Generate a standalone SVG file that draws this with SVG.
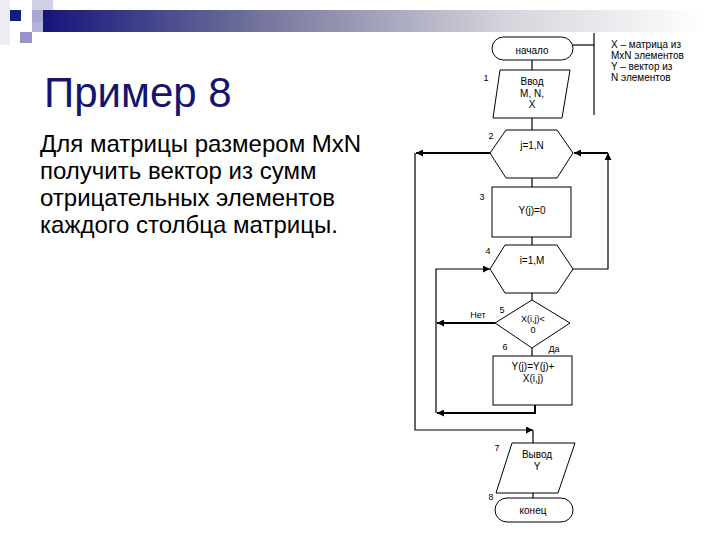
<svg xmlns="http://www.w3.org/2000/svg" width="720" height="540" viewBox="0 0 720 540">
<defs>
<linearGradient id="bar" x1="0" y1="0" x2="1" y2="0">
<stop offset="0" stop-color="#15157a"/>
<stop offset="0.35" stop-color="#7a7aa0"/>
<stop offset="0.7" stop-color="#d4d4dc"/>
<stop offset="1" stop-color="#ffffff"/>
</linearGradient>
<marker id="arr" viewBox="0 0 10 10" refX="10" refY="5" markerWidth="7" markerHeight="7" markerUnits="userSpaceOnUse" orient="auto">
<path d="M0,0 L10,5 L0,10 z" fill="#000"/>
</marker>
<style>
.shape{fill:#fff;stroke:#000;stroke-width:1}
.con{fill:none;stroke:#000;stroke-width:1.2}
.bold{fill:none;stroke:#000;stroke-width:2}
.t{font-family:"Liberation Sans",Arial,sans-serif;font-size:10px;fill:#000;text-anchor:middle}
.lbl{font-family:"Liberation Sans",Arial,sans-serif;font-size:9px;fill:#000;text-anchor:middle}
.note{font-family:"Liberation Sans",Arial,sans-serif;font-size:10px;fill:#000}
.body{font-family:"Liberation Sans",Arial,sans-serif;font-size:24px;fill:#000}
</style>
</defs>
<rect width="720" height="540" fill="#fff"/>
<g id="decoration">
<rect x="0" y="0" width="10" height="45" fill="#ececf2"/>
<rect x="32" y="0" width="21" height="22" fill="#d0d0e6"/>
<rect x="43" y="10" width="660" height="22" fill="url(#bar)"/>
<rect x="32" y="10" width="11" height="12" fill="#a8a8d2"/>
<rect x="32" y="22" width="11" height="10" fill="#b4b4da"/>
<rect x="20" y="32" width="12" height="11" fill="#9494c8"/>
<rect x="10" y="10" width="11" height="11" fill="#1a1a86"/>
</g>
<g id="title">
<text x="44" y="107" font-family="'Liberation Sans',Arial,sans-serif" font-size="42" fill="#14146e">Пример 8</text>
</g>
<g id="description">
<text class="body" x="40" y="152">Для матрицы размером MxN</text>
<text class="body" x="40" y="179">получить вектор из сумм</text>
<text class="body" x="40" y="206">отрицательных элементов</text>
<text class="body" x="40" y="233">каждого столбца матрицы.</text>
</g>
<g id="note">
<text class="note" x="611" y="48">X – матрица из</text>
<text class="note" x="611" y="59">MxN элементов</text>
<text class="note" x="611" y="70">Y – вектор из</text>
<text class="note" x="611" y="81">N элементов</text>
</g>
<g id="connectors">
<path class="con" d="M532,60 V70"/>
<path class="con" d="M532,118 V130"/>
<path class="con" d="M532,178 V187"/>
<path class="con" d="M532,237 V245"/>
<path class="con" d="M532,293 V300"/>
<path class="con" d="M532,348 V356"/>
<path class="bold" d="M535,405 V413 H437" marker-end="url(#arr)"/>
<path class="con" d="M436,413 V269 H490" marker-end="url(#arr)"/>
<path class="bold" d="M495,323 H437" marker-end="url(#arr)"/>
<path class="con" d="M573,269 H608 V153" marker-end="url(#arr)"/>
<path class="bold" d="M608,153 H574" marker-end="url(#arr)"/>
<path class="bold" d="M490,153 H416" marker-end="url(#arr)"/>
<path class="con" d="M415,153 V430 H533" marker-end="url(#arr)"/>
<path class="con" d="M533,430 V443"/>
<path class="con" d="M533,488 V498"/>
<path class="con" d="M573,45 H594"/>
<path class="con" d="M594,33 V115"/>
</g>
<g id="n0">
<rect class="shape" x="492" y="37" width="81" height="23" rx="11.5"/>
<text class="t" x="532" y="53.5">начало</text>
</g>
<g id="n1">
<polygon class="shape" points="500,70 570,70 562,118 493,118"/>
<text class="t" x="532" y="85">Ввод</text>
<text class="t" x="532" y="97">M, N,</text>
<text class="t" x="532" y="108">X</text>
<text class="lbl" x="486" y="81">1</text>
</g>
<g id="n2">
<polygon class="shape" points="506,130 557,130 573,153 557,178 506,178 490,153"/>
<text class="t" x="532" y="148.5">j=1,N</text>
<text class="lbl" x="491" y="139">2</text>
</g>
<g id="n3">
<rect class="shape" x="492" y="187" width="79" height="50"/>
<text class="t" x="532" y="213.5">Y(j)=0</text>
<text class="lbl" x="482" y="200">3</text>
</g>
<g id="n4">
<polygon class="shape" points="505,245 557,245 573,269 557,293 505,293 490,269"/>
<text class="t" x="532" y="264">i=1,M</text>
<text class="lbl" x="488" y="254">4</text>
</g>
<g id="n5">
<polygon class="shape" points="532,300 570,323 532,348 495,323"/>
<text class="lbl" x="533" y="322">X(i,j)&lt;</text>
<text class="lbl" x="533" y="333">0</text>
<text class="lbl" x="502" y="313">5</text>
<text class="lbl" x="478" y="318">Нет</text>
<text class="lbl" x="505" y="350">6</text>
<text class="lbl" x="554" y="352">Да</text>
</g>
<g id="n6">
<rect class="shape" x="493" y="356" width="79" height="49"/>
<text class="t" x="533" y="370">Y(j)=Y(j)+</text>
<text class="t" x="533" y="382">X(i,j)</text>
</g>
<g id="n7">
<polygon class="shape" points="512,443 575,443 558,493 496,493"/>
<text class="t" x="537" y="458">Вывод</text>
<text class="t" x="537" y="470">Y</text>
<text class="lbl" x="497" y="451">7</text>
</g>
<g id="n8">
<rect class="shape" x="495" y="498" width="78" height="24" rx="12"/>
<text class="t" x="533" y="514">конец</text>
<text class="lbl" x="491" y="500">8</text>
</g>
</svg>
